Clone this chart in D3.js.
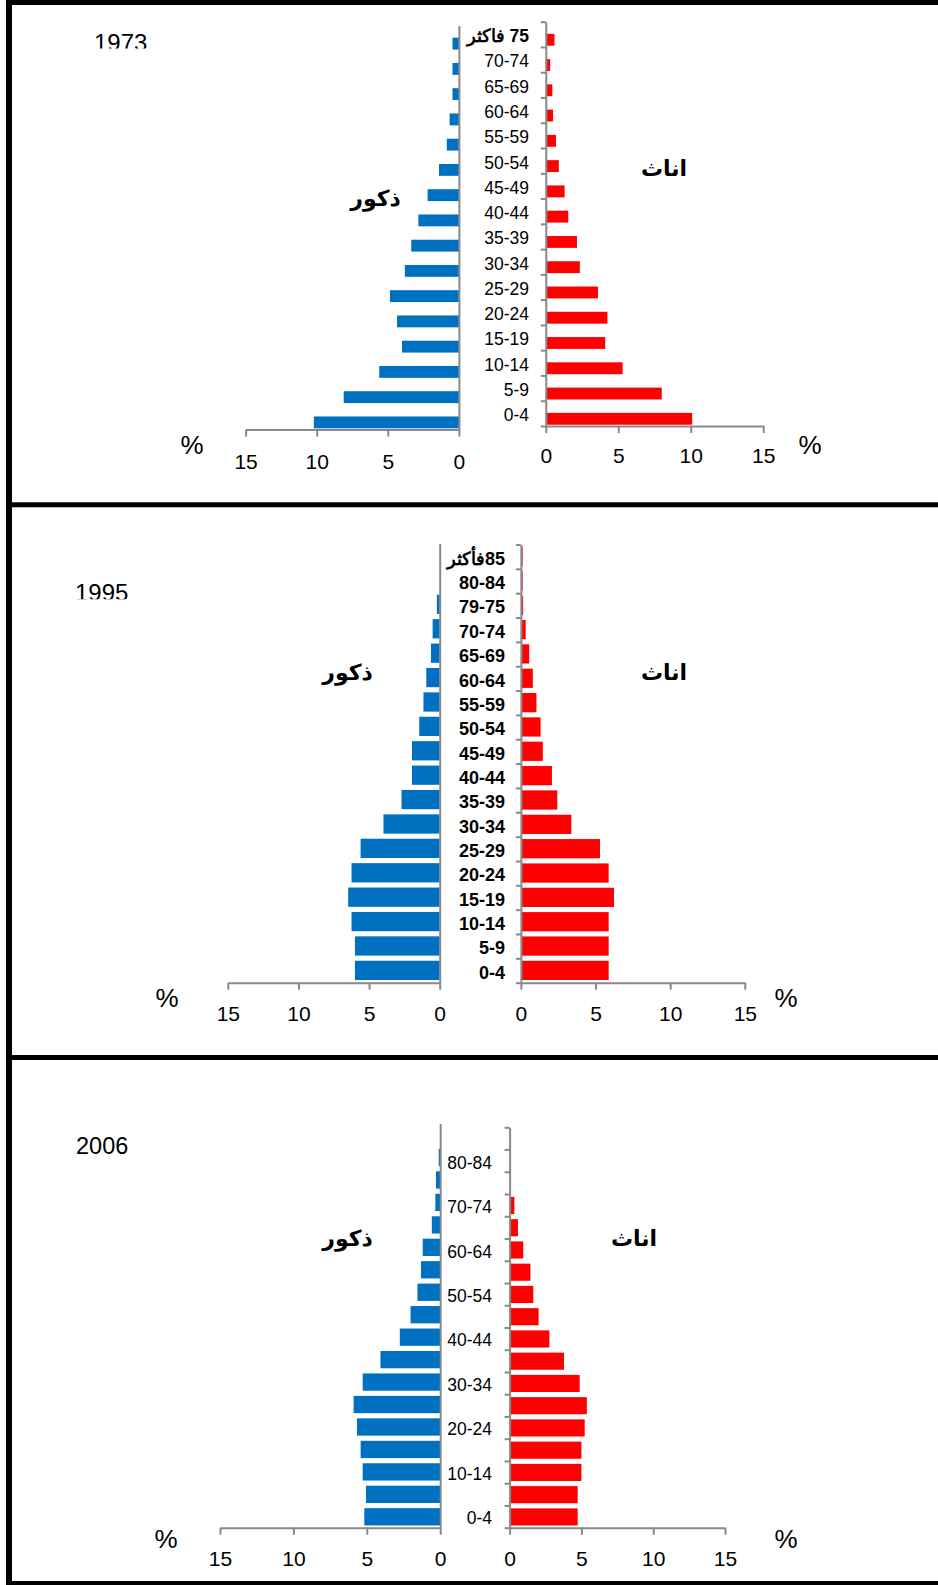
<!DOCTYPE html>
<html>
<head>
<meta charset="utf-8">
<script src="https://cdn.jsdelivr.net/npm/d3@7/dist/d3.min.js"></script>
<style>
  html, body { margin: 0; padding: 0; background: #fff; }
  svg { display: block; }
</style>
</head>
<body>
<svg id="chart" width="938" height="1585"></svg>
<script>
// ---- Data: population share (%) by age group, bottom (0-4) to top ----
const ages1973 = ["0-4","5-9","10-14","15-19","20-24","25-29","30-34","35-39","40-44","45-49","50-54","55-59","60-64","65-69","70-74","75 فاكثر"];
const males1973 = [10.2, 8.1, 5.6, 4.0, 4.35, 4.85, 3.8, 3.35, 2.85, 2.2, 1.4, 0.85, 0.65, 0.45, 0.45, 0.45];
const females1973 = [10.1, 8.0, 5.3, 4.1, 4.25, 3.6, 2.35, 2.15, 1.55, 1.3, 0.9, 0.7, 0.5, 0.45, 0.3, 0.6];

const ages1995 = ["0-4","5-9","10-14","15-19","20-24","25-29","30-34","35-39","40-44","45-49","50-54","55-59","60-64","65-69","70-74","79-75","80-84","85فأكثر"];
const males1995 = [6.0, 6.0, 6.24, 6.48, 6.24, 5.6, 3.98, 2.7, 1.96, 1.96, 1.45, 1.15, 0.95, 0.62, 0.5, 0.2, 0, 0];
const females1995 = [5.88, 5.88, 5.88, 6.24, 5.88, 5.3, 3.38, 2.44, 2.08, 1.47, 1.32, 1.04, 0.8, 0.56, 0.32, 0.15, 0.12, 0.12];

const ages2006 = ["0-4","5-9","10-14","15-19","20-24","25-29","30-34","35-39","40-44","45-49","50-54","55-59","60-64","65-69","70-74","75-79","80-84","85فأكثر"];
const males2006 = [5.17, 5.06, 5.28, 5.42, 5.67, 5.9, 5.28, 4.07, 2.75, 2.02, 1.55, 1.31, 1.19, 0.57, 0.33, 0.29, 0.1, 0];
const females2006 = [4.74, 4.74, 5.0, 5.0, 5.23, 5.38, 4.88, 3.79, 2.77, 2.02, 1.65, 1.45, 0.95, 0.58, 0.33, 0, 0, 0];

const percentTicks = [0, 5, 10, 15];
const maleLabel = "ذكور";
const femaleLabel = "اناث";

// ---- Styling ----
const MALE = "#0070C0";
const FEMALE = "#FF0000";
const AXIS = "#898989";
const LATIN = "'Liberation Sans', Arial, sans-serif";
const ARABIC = "'DejaVu Sans', 'Liberation Sans', sans-serif";

const svg = d3.select("#chart");
svg.append("rect").attr("width", 938).attr("height", 1585).attr("fill", "#fff");

// Right-to-left embedding so Arabic words keep the number on their right
const rtl = s => /[\u0600-\u06FF]/.test(s) ? "\u202B" + s + "\u202C" : s;

const panels = [
  {
    year: "1973", ages: ages1973, males: males1973, females: females1973,
    yearX: 94, yearY: 50.5, yearClip: 48.4, yearSize: 24,
    mZero: 458.9, mEnd: 245.6, fZero: 545.8, fEnd: 763.2,
    mTop: 25.6, mBottom: 429.6, fTop: 21.7, fBottom: 426,
    bar: [0.48, 0.95],
    labelRight: 529, labelSize: 17.5, labelWeight: "normal", labelEvery: 1,
    padM: 17, padF: 15.5,
    pctL: [192, 445], pctR: [810, 445],
    maleWord: [375.5, 199], femaleWord: [664, 169]
  },
  {
    year: "1995", ages: ages1995, males: males1995, females: females1995,
    yearX: 75, yearY: 600.5, yearClip: 599.3, yearSize: 24,
    mZero: 439.7, mEnd: 227.8, fZero: 520.9, fEnd: 744.8,
    mTop: 543.5, mBottom: 982.7, fTop: 544.5, fBottom: 982.7,
    bar: [0.1, 0.89],
    labelRight: 505, labelSize: 18, labelWeight: "bold", labelEvery: 1,
    padM: 16, padF: 16,
    pctL: [167, 998], pctR: [786, 998],
    maleWord: [347.5, 673], femaleWord: [664, 673]
  },
  {
    year: "2006", ages: ages2006, males: males2006, females: females2006,
    yearX: 76, yearY: 1153.5, yearClip: null, yearSize: 23.5,
    mZero: 440.2, mEnd: 220, fZero: 509.6, fEnd: 725,
    mTop: 1123.5, mBottom: 1527.7, fTop: 1127.3, fBottom: 1527.7,
    bar: [0.13, 0.9],
    labelRight: 492, labelSize: 17.5, labelWeight: "normal", labelEvery: 2,
    padM: 16, padF: 16,
    pctL: [166, 1539], pctR: [786, 1539],
    maleWord: [347.5, 1239], femaleWord: [634, 1239]
  }
];

function styleAxis(g) {
  g.selectAll("path.domain").attr("stroke", AXIS).attr("stroke-width", 2);
  g.selectAll(".tick line").attr("stroke", AXIS).attr("stroke-width", 2);
}

panels.forEach((p, pi) => {
  const g = svg.append("g").attr("class", "panel-" + p.year);
  const n = p.ages.length;
  const order = p.ages.slice().reverse(); // top row first

  // Horizontal value scales
  const xM = d3.scaleLinear().domain([0, 15]).range([p.mZero, p.mEnd]);
  const xF = d3.scaleLinear().domain([0, 15]).range([p.fZero, p.fEnd]);

  // Vertical category scales (one slot per age group)
  const yM = d3.scaleBand().domain(order).range([p.mTop, p.mBottom]).padding(0);
  const yF = d3.scaleBand().domain(order).range([p.fTop, p.fBottom]).padding(0);

  // Bars: males grow to the left, females to the right
  g.append("g").selectAll("rect").data(p.ages.map((a, i) => ({ a, v: p.males[i] })))
    .join("rect")
    .attr("x", d => xM(d.v))
    .attr("y", d => yM(d.a) + p.bar[0] * yM.step())
    .attr("width", d => xM(0) - xM(d.v))
    .attr("height", (p.bar[1] - p.bar[0]) * yM.step())
    .attr("fill", MALE);

  g.append("g").selectAll("rect").data(p.ages.map((a, i) => ({ a, v: p.females[i] })))
    .join("rect")
    .attr("x", xF(0))
    .attr("y", d => yF(d.a) + p.bar[0] * yF.step())
    .attr("width", d => xF(d.v) - xF(0))
    .attr("height", (p.bar[1] - p.bar[0]) * yF.step())
    .attr("fill", FEMALE);

  // Male category axis: plain line, no ticks
  const gmv = g.append("g").attr("transform", `translate(${p.mZero},0)`)
    .call(d3.axisRight(d3.scaleLinear().domain([0, n]).range([p.mBottom, p.mTop]))
      .tickValues([]).tickSizeOuter(0));
  styleAxis(gmv);

  // Female category axis: line with boundary ticks pointing left
  const yBound = d3.scaleLinear().domain([0, n]).range([p.fBottom, p.fTop]);
  const gfv = g.append("g").attr("transform", `translate(${p.fZero},0)`)
    .call(d3.axisLeft(yBound).tickValues(d3.range(n + 1)).tickFormat("").tickSize(5).tickSizeOuter(0));
  styleAxis(gfv);

  // Age group labels, between the two halves
  const shown = p.ages.filter((a, i) => i % p.labelEvery === 0);
  const gl = g.append("g").attr("transform", `translate(${p.fZero},0)`)
    .call(d3.axisLeft(yF).tickValues(shown).tickSize(0).tickPadding(p.fZero - p.labelRight)
      .tickFormat(rtl));
  gl.select("path.domain").remove();
  gl.selectAll("text")
    .attr("font-family", LATIN)
    .attr("font-size", p.labelSize)
    .attr("font-weight", d => /[\u0600-\u06FF]/.test(d) ? "bold" : p.labelWeight)
    .attr("fill", "#000")
    .attr("dy", "0.45em");

  // Horizontal percentage axes
  const gmx = g.append("g").attr("transform", `translate(0,${p.mBottom})`)
    .call(d3.axisBottom(xM).tickValues(percentTicks).tickFormat(d3.format("d"))
      .tickSize(7).tickSizeOuter(0).tickPadding(p.padM));
  const gfx = g.append("g").attr("transform", `translate(0,${p.fBottom})`)
    .call(d3.axisBottom(xF).tickValues(percentTicks).tickFormat(d3.format("d"))
      .tickSize(7).tickSizeOuter(0).tickPadding(p.padF));
  [gmx, gfx].forEach(ax => {
    styleAxis(ax);
    ax.selectAll("text").attr("font-family", LATIN).attr("font-size", 21).attr("fill", "#000");
  });

  // Percent signs at both ends
  [p.pctL, p.pctR].forEach(([x, y]) => {
    g.append("text").attr("x", x).attr("y", y).attr("dy", "0.36em")
      .attr("text-anchor", "middle").attr("font-family", LATIN).attr("font-size", 26)
      .text("%");
  });

  // Sex labels
  g.append("text").attr("x", p.maleWord[0]).attr("y", p.maleWord[1]).attr("dy", "0.3em")
    .attr("text-anchor", "middle").attr("font-family", ARABIC).attr("font-weight", "bold")
    .attr("font-size", 22).text(maleLabel);
  g.append("text").attr("x", p.femaleWord[0]).attr("y", p.femaleWord[1]).attr("dy", "0.3em")
    .attr("text-anchor", "middle").attr("font-family", ARABIC).attr("font-weight", "bold")
    .attr("font-size", 22).text(femaleLabel);

  // Year caption
  const yt = g.append("text").attr("x", p.yearX).attr("y", p.yearY)
    .attr("font-family", LATIN).attr("font-size", p.yearSize).text(p.year);
  if (p.yearClip !== null) {
    const id = "clip-year-" + p.year;
    svg.append("clipPath").attr("id", id).append("rect")
      .attr("x", 0).attr("y", 0).attr("width", 938).attr("height", p.yearClip);
    yt.attr("clip-path", `url(#${id})`);
  }
});

// Frame: heavy black rules
const frame = svg.append("g").attr("fill", "#000");
frame.append("rect").attr("x", 6).attr("y", 0).attr("width", 932).attr("height", 5);
frame.append("rect").attr("x", 6).attr("y", 0).attr("width", 6).attr("height", 1585);
frame.append("rect").attr("x", 6).attr("y", 502.3).attr("width", 932).attr("height", 5);
frame.append("rect").attr("x", 6).attr("y", 1055).attr("width", 932).attr("height", 5);
frame.append("rect").attr("x", 6).attr("y", 1581).attr("width", 932).attr("height", 4);
</script>
</body>
</html>
